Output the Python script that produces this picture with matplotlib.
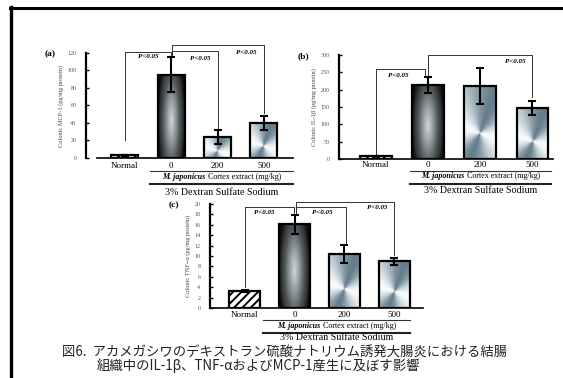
import numpy as np
import matplotlib
matplotlib.use('Agg')
import matplotlib.pyplot as plt
from matplotlib.colors import LinearSegmentedColormap
from matplotlib.transforms import offset_copy

# Cytokine levels in colon tissue, mean and error, per group
categories = ['Normal', '0', '200', '500']
mcp1_mean = [3, 95, 24, 40]
mcp1_err = [0.5, 20, 8, 7.5]
il1b_mean = [8, 214, 211, 147]
il1b_err = [2, 23, 52, 19]
tnfa_mean = [3.2, 16.1, 10.4, 9.0]
tnfa_err = [0.2, 1.8, 1.7, 0.7]

species_label = 'M. japonicus'
extract_label = 'Cortex extract (mg/kg)'
dss_label = '3% Dextran Sulfate Sodium'
caption1 = '図6.  アカメガシワのデキストラン硫酸ナトリウム誘発大腸炎における結腸'
caption2 = '組織中のIL-1β、TNF-αおよびMCP-1産生に及ぼす影響'

SERIF = 'Liberation Serif'
plt.rcParams['hatch.linewidth'] = 1.4

W, H = 563, 378
fig = plt.figure(figsize=(W / 100, H / 100), dpi=100)
renderer = fig.canvas.get_renderer()

radial_cmap = LinearSegmentedColormap.from_list('rad', ['#0e0e0e', '#50575a', '#d0d7da'])
cone_cmap = LinearSegmentedColormap.from_list('cone', ['#667e8c', '#b9c8d0', '#f8fafb'])


def add_axes_px(left, right, bottom, top):
    return fig.add_axes([left / W, 1 - bottom / H, (right - left) / W, (bottom - top) / H])


def fill_gradient(ax, patch, kind):
    x0, y0 = patch.get_x(), patch.get_y()
    w, h = patch.get_width(), patch.get_height()
    p0 = ax.transData.transform((x0, y0))
    p1 = ax.transData.transform((x0 + w, y0 + h))
    wpx, hpx = abs(p1 - p0)
    nx, ny = max(int(wpx * 2), 4), max(int(hpx * 2), 4)
    U, V = np.meshgrid(np.linspace(-0.5, 0.5, nx) * wpx, np.linspace(0, 1, ny) * hpx)
    if kind == 'radial':
        r = np.sqrt((U / (wpx / 2)) ** 2 + ((V - 0.45 * hpx) / (0.8 * hpx)) ** 2)
        val = np.clip(1 - r, 0, 1) ** 0.7
        cmap = radial_cmap
    else:
        theta = np.arctan2(V - 0.35 * hpx, U)
        val = (0.5 + 0.5 * np.cos(2 * theta + 0.7)) ** 0.8
        cmap = cone_cmap
    im = ax.imshow(val, extent=(x0, x0 + w, y0, y0 + h), origin='lower',
                   aspect='auto', cmap=cmap, vmin=0, vmax=1, zorder=1,
                   interpolation='bilinear')
    im.set_clip_path(patch)


def below(ax, px, dx=0):
    # x in data units, y measured in pixels under the x axis
    return offset_copy(ax.get_xaxis_transform(), fig=fig, x=dx, y=-px, units='dots')


def panel(ax, means, errs, xlim, ylim, yticks, ylabel, tag, width,
          rows, line_span, xaxis_start=None):
    ax.set_xlim(*xlim)
    ax.set_ylim(*ylim)
    x = np.arange(len(categories))

    bars = ax.bar(x, means, width=width, facecolor='none', edgecolor='black',
                  linewidth=1.6, zorder=3)
    bars[0].set_facecolor('white')
    bars[0].set_hatch('////')
    fill_gradient(ax, bars[1], 'radial')
    fill_gradient(ax, bars[2], 'cone')
    fill_gradient(ax, bars[3], 'cone')
    ax.set_xlim(*xlim)
    ax.set_ylim(*ylim)

    ax.errorbar(x, means, yerr=errs, fmt='none', ecolor='black', elinewidth=1.5,
                capsize=3.2, capthick=1.5, zorder=4)

    for s in ['top', 'right']:
        ax.spines[s].set_visible(False)
    ax.spines['left'].set_linewidth(1.6)
    ax.spines['bottom'].set_linewidth(1.2)
    if xaxis_start is not None:
        ax.spines['bottom'].set_bounds(xaxis_start, xlim[1])
    ax.set_xticks([])
    ax.set_yticks(yticks)
    ax.tick_params(axis='y', direction='in', length=2.5, width=1, pad=7,
                   labelsize=4.3, labelcolor='#555555')
    for t in ax.get_yticklabels():
        t.set_family(SERIF)
    ax.set_ylabel(ylabel, fontsize=4.6, family=SERIF, color='#444444', labelpad=2)

    tag_tr = offset_copy(ax.transAxes, fig=fig, x=-36, y=-1, units='dots')
    ax.text(0, 1.0, tag, transform=tag_tr, ha='center', va='center',
            fontsize=6.8, fontweight='bold', family=SERIF)

    lab_y, line1_y, text2_y, line2_y, text3_y = rows
    for xi, c in zip(x, categories):
        ax.text(xi, 0, c, transform=below(ax, lab_y), ha='center', va='center',
                fontsize=6.5, family=SERIF)
    x_a, x_b = line_span
    xm = (x_a + x_b) / 2
    ax.plot([x_a, x_b], [0, 0], color='#333333', lw=0.8, clip_on=False,
            transform=below(ax, line1_y))

    # italic species name followed by the plain part, centred as one line
    sp = ax.text(xm, 0, species_label, transform=below(ax, text2_y), ha='left',
                 va='center', fontsize=5.8, family=SERIF, style='italic',
                 fontweight='bold')
    ex = ax.text(xm, 0, extract_label, transform=below(ax, text2_y), ha='left',
                 va='center', fontsize=5.8, family=SERIF)
    w_sp = sp.get_window_extent(renderer).width
    w_ex = ex.get_window_extent(renderer).width
    gap = 2.5
    total = w_sp + gap + w_ex
    sp.set_transform(below(ax, text2_y, dx=-total / 2))
    ex.set_transform(below(ax, text2_y, dx=-total / 2 + w_sp + gap))

    ax.plot([x_a, x_b], [0, 0], color='#222222', lw=1.5, clip_on=False,
            transform=below(ax, line2_y))
    ax.text(xm, 0, dss_label, transform=below(ax, text3_y), ha='center',
            va='center', fontsize=7.2, family=SERIF)


def bracket(ax, xl, xr, top, yl, yr, tx, ty):
    ax.plot([xl, xl, xr, xr], [yl, top, top, yr], color='#333333', lw=0.7,
            clip_on=False, zorder=2)
    ax.text(tx, ty, 'P<0.05', ha='center', va='center', fontsize=5,
            family=SERIF, style='italic', fontweight='bold', clip_on=False)


# (a) MCP-1
ax_a = add_axes_px(86, 293, 158, 53)
panel(ax_a, mcp1_mean, mcp1_err, (-0.84, 3.63), (0, 120), range(0, 121, 20),
      'Colonic MCP-1 (pg/mg protein)', '(a)', 0.58,
      (8, 13, 19, 26, 35), (0.54, 3.63), xaxis_start=-0.6)
bracket(ax_a, 0, 0.99, 121, 21, 117, 0.5, 116.5)
bracket(ax_a, 1.02, 2, 122.5, 118, 34, 1.62, 114)
bracket(ax_a, 1.02, 3, 129, 118, 51, 2.63, 120)

# (b) IL-1beta
ax_b = add_axes_px(339, 553, 159, 55)
panel(ax_b, il1b_mean, il1b_err, (-0.71, 3.40), (0, 300), range(0, 301, 50),
      'Colonic IL-1β (pg/mg protein)', '(b)', 0.6,
      (6, 12, 17, 25, 31), (0.65, 3.37))
bracket(ax_b, 0, 0.95, 260, 12, 241, 0.42, 242)
bracket(ax_b, 1.0, 3, 300, 241, 179, 2.67, 280)

# (c) TNF-alpha
ax_c = add_axes_px(210, 423, 308, 204)
panel(ax_c, tnfa_mean, tnfa_err, (-0.70, 3.58), (0, 20), range(0, 21, 2),
      'Colonic TNF−α (pg/mg protein)', '(c)', 0.62,
      (7, 12, 18, 25, 30), (0.36, 3.32))
bracket(ax_c, 0, 0.98, 19.4, 4.0, 18.2, 0.4, 18.3)
bracket(ax_c, 1.02, 2.04, 19.4, 18.2, 12.5, 1.55, 18.3)
bracket(ax_c, 1.02, 3, 20.4, 18.2, 10.2, 2.66, 19.4)

# frame lines at the top and left edge
fig.add_artist(plt.Line2D([10 / W, 1], [1 - 8 / H, 1 - 8 / H], color='black', lw=2.2))
fig.add_artist(plt.Line2D([10.5 / W, 10.5 / W], [0, 1 - 7 / H], color='black', lw=2.4))

cap_font = ['Noto Sans CJK JP', 'DejaVu Sans']
fig.text(285 / W, 1 - 353 / H, caption1, ha='center', va='center', fontsize=9.6,
         family=cap_font, color='#222222')
fig.text(97 / W, 1 - 366 / H, caption2, ha='left', va='center', fontsize=9.6,
         family=cap_font, color='#222222')

fig.savefig('out.png', dpi=100)
